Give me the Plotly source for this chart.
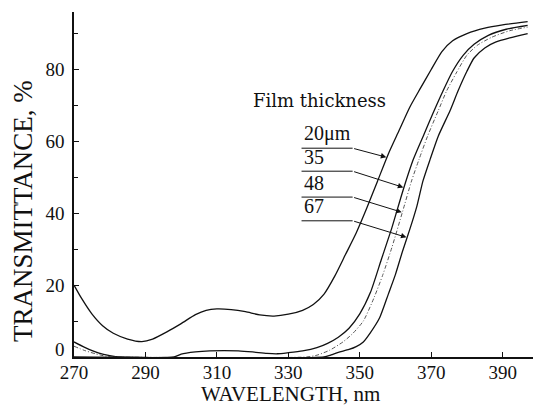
import numpy as np
import plotly.graph_objects as go

# Transmittance (%) versus wavelength (nm) for four film thicknesses
wl_20 = [270, 272, 275, 278, 281, 285, 289, 292, 296, 300, 304, 307, 310, 314, 318, 322,
         326, 330, 334, 337, 340, 343, 346, 349, 352, 355, 358, 361, 364, 367, 370, 373,
         376, 380, 385, 390, 397]
t_20 = [20, 16.5, 12, 8.7, 6.6, 5, 4.3, 5, 7, 9.3, 11.8, 13, 13.4, 13.2, 12.6, 11.7,
        11.4, 11.9, 13, 14.6, 17.5, 22.5, 28.5, 34.5, 41.5, 49, 56.5, 63, 69.5, 74.8, 80, 85,
        88, 90, 91.5, 92.4, 93.3]

wl_35 = [270, 273, 277, 280, 283, 298, 300, 304, 308, 312, 316, 320, 324, 327, 330, 334,
         338, 341, 344, 347, 350, 353, 356, 359, 362, 365, 368, 370.5, 373.3, 376, 379, 382,
         386, 391, 397]
t_35 = [4.2, 2.7, 1.1, 0.4, 0, 0, 0.8, 1.4, 1.7, 1.8, 1.7, 1.4, 1.0, 0.9, 1.2, 1.7,
        2.6, 3.8, 5.5, 8, 12, 18, 27, 36, 46, 55, 62, 67.8, 74, 79.5, 84, 87,
        89.5, 91.2, 92.3]

wl_48 = [270, 273, 276, 279, 282, 335, 338, 341.6, 345.3, 348, 351, 354, 356.5, 359, 362,
         364.5, 366.6, 369, 372, 374.3, 377, 380, 383, 387, 392, 397]
t_48 = [3, 1.8, 0.9, 0.2, 0, 0, 0.5, 1.9, 4.2, 6.5, 10, 16.5, 23, 30.5, 40.5,
        49, 55, 61.5, 68.6, 74, 79, 84, 86.8, 89, 90.8, 91.8]

wl_67 = [270, 340, 342, 344, 347, 349, 351, 353, 355.6, 358, 360, 362, 364, 366, 367.7,
         369.7, 372, 375.3, 377.5, 380, 382, 385, 388, 392, 397]
t_67 = [0, 0, 0.6, 1.3, 2.1, 2.9, 4.2, 6.8, 11, 17.5, 23, 29.5, 35.5, 42, 49,
        55, 61.5, 68.6, 74, 79.5, 83.2, 86, 87.6, 88.8, 90]

labels = ["20\u03bcm", "35", "48", "67"]
x_ticks = [270, 290, 310, 330, 350, 370, 390]
y_ticks = [0, 20, 40, 60, 80]
y_ticktext = ["", "20", "40", "60", "80"]  # the zero label is placed separately, lifted off the corner

series = [(wl_20, t_20), (wl_35, t_35), (wl_48, t_48), (wl_67, t_67)]
styles = [dict(color="#111", width=1.3),
          dict(color="#111", width=1.3),
          dict(color="#555", width=1.0, dash="4px,2px,1px,2px"),
          dict(color="#111", width=1.3)]

fig = go.Figure()
for (wl, t), st in zip(series, styles):
    fig.add_trace(go.Scatter(x=wl, y=t, mode="lines", line=dict(shape="spline", smoothing=0.6, **st),
                             hoverinfo="skip", showlegend=False))

serif = "Liberation Serif"

# Leader lines: underline under each label, then an arrow to its curve
label_x0, label_x1 = 333.7, 348.0
underline_t = [58.1, 51.7, 44.5, 37.9]
tip_t = [55.6, 47.2, 40.3, 33.3]
for (wl, t), lab, ul, tt in zip(series, labels, underline_t, tip_t):
    wl_a, t_a = np.array(wl), np.array(t)
    rising = wl_a >= 340
    tip_x = float(np.interp(tt, t_a[rising], wl_a[rising])) - 0.2
    fig.add_shape(type="line", x0=label_x0, x1=label_x1, y0=ul, y1=ul,
                  line=dict(color="#111", width=1))
    fig.add_annotation(x=tip_x, y=tt, ax=label_x1, ay=ul, axref="x", ayref="y",
                       text="", showarrow=True, arrowhead=2, arrowsize=1.1,
                       arrowwidth=1, arrowcolor="#111", standoff=0)
    fig.add_annotation(x=label_x0, y=ul + 0.4, text=lab, showarrow=False,
                       xanchor="left", yanchor="bottom",
                       font=dict(family=serif, size=20, color="#111"))

fig.add_annotation(x=338.8, y=71.4, text="Film thickness", showarrow=False,
                   xanchor="center", yanchor="middle",
                   font=dict(family="DejaVu Serif", size=18, color="#111"))

# Zero label of the y axis
fig.add_annotation(xref="paper", yref="y", x=-0.015, y=2.0, text="0", showarrow=False,
                   xanchor="right", yanchor="middle",
                   font=dict(family=serif, size=19, color="#111"))

# Axis titles
fig.add_annotation(xref="paper", yref="paper", x=-0.111, y=0.423, text="TRANSMITTANCE, %",
                   textangle=-90, showarrow=False, xanchor="center", yanchor="middle",
                   font=dict(family=serif, size=27, color="#111"))
fig.add_annotation(xref="paper", yref="paper", x=0.4706, y=-0.107, text="WAVELENGTH, nm",
                   showarrow=False, xanchor="center", yanchor="middle",
                   font=dict(family=serif, size=21, color="#111"))

fig.update_layout(
    width=533, height=407,
    margin=dict(l=74, r=0, t=12, b=50),
    paper_bgcolor="white", plot_bgcolor="white",
    xaxis=dict(range=[270, 398.5], tickvals=x_ticks, ticks="inside", ticklen=5,
               tickcolor="#111", showline=True, linecolor="#111", linewidth=1.5,
               showgrid=False, zeroline=False, ticklabelstandoff=-3,
               tickfont=dict(family=serif, size=19, color="#111")),
    yaxis=dict(range=[0, 96], tickvals=y_ticks, ticktext=y_ticktext, ticks="inside", ticklen=5,
               tickcolor="#111", showline=True, linecolor="#111", linewidth=1.5,
               showgrid=False, zeroline=False, ticklabelstandoff=4,
               minor=dict(dtick=10, ticks="inside", ticklen=4, tickcolor="#111"),
               tickfont=dict(family=serif, size=19, color="#111")),
)

fig.write_html("out.html")
